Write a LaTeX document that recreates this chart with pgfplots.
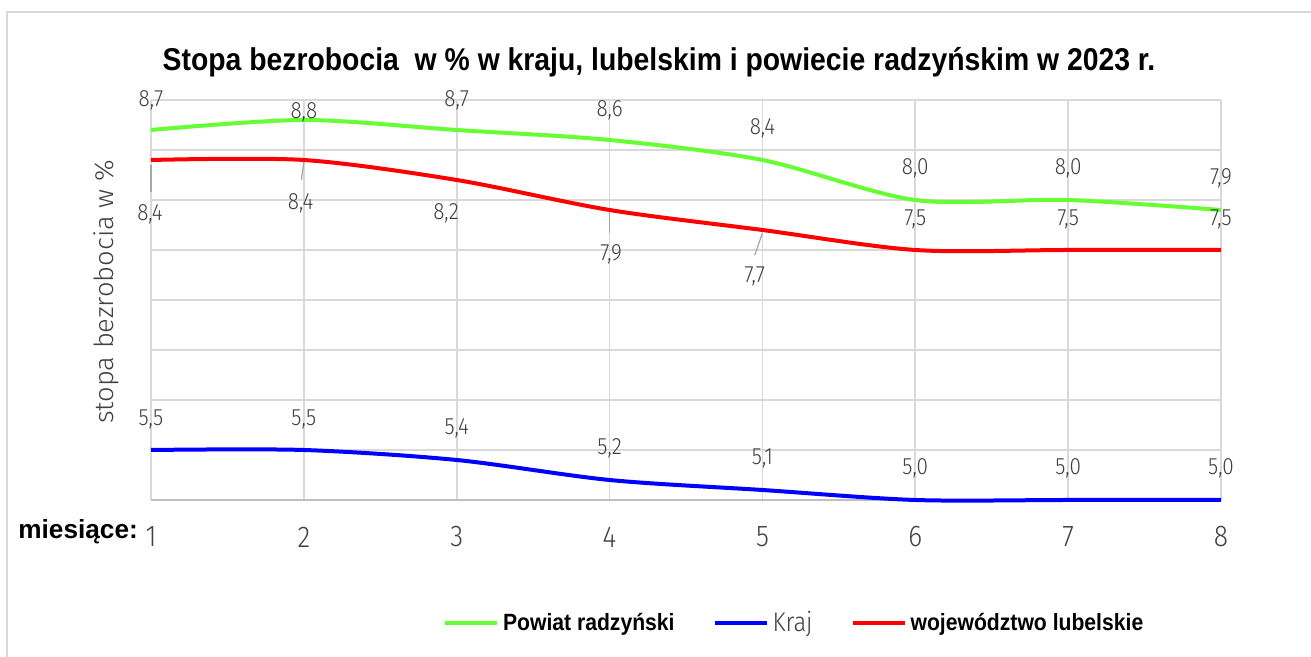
\documentclass[border=0pt]{standalone}
\usepackage{fontspec}
\setmainfont{Liberation Sans}
\newfontfamily\boldnarrow[FakeStretch=0.9]{Liberation Sans}
\newfontfamily\lightfont[FakeStretch=0.88]{Fira Sans Light}
\usepackage{pgfplots}
\pgfplotsset{compat=1.18}
\definecolor{cgreen}{RGB}{102,255,51}
\definecolor{cred}{RGB}{255,0,0}
\definecolor{cblue}{RGB}{0,0,255}
\definecolor{gridc}{RGB}{217,217,217}
\definecolor{axc}{RGB}{191,191,191}
\definecolor{labc}{RGB}{64,64,64}
\definecolor{leadc}{RGB}{166,166,166}
\begin{document}
\begin{tikzpicture}[x=0.5pt,y=0.5pt]
\useasboundingbox (0,0) rectangle (1311,657);
\fill[white] (0,0) rectangle (1311,657);
\draw[gridc, line width=1pt] (7,-40) -- (7,645) -- (1330,645);
\node[anchor=base, font=\boldnarrow\bfseries\fontsize{15.75}{18}\selectfont] at (659,586) {Stopa bezrobocia\ \ w \% w kraju, lubelskim i powiecie radzyńskim w 2023 r.};
\node[anchor=base west, inner sep=0pt, font=\bfseries\fontsize{13.1}{16}\selectfont] at (18,118) {miesiące:};
\node[rotate=90, text=labc, font=\lightfont\fontsize{15.5}{18}\selectfont] at (106,365) {\scalebox{1}[0.85]{stopa bezrobocia w \%}};
\begin{axis}[
  at={(75.5pt,78.5pt)}, anchor=south west,
  scale only axis, width=535pt, height=200pt,
  xmin=1, xmax=8, ymin=5, ymax=9,
  xtick={1,2,3,4,5,6,7,8}, xticklabels={1,2,3,4,5,6,7,8},
  ytick={5,5.5,6,6.5,7,7.5,8,8.5,9}, yticklabels={},
  major tick length=0pt,
  xmajorgrids, ymajorgrids,
  grid style={gridc, line width=0.9pt},
  axis line style={draw=none},
  xticklabel style={anchor=center, yshift=-18.5pt, text=labc, font=\lightfont\fontsize{15}{16}\selectfont},
  clip=false,
  legend style={draw=none, fill=none, at={(0.602,-0.3075)}, anchor=center,
    legend columns=3, font=\fontsize{11.75}{14}\selectfont,
    /tikz/every even column/.append style={column sep=17pt},
    legend cell align=left},
  legend image code/.code={\draw[#1, line width=2pt] (0pt,0pt) -- (26pt,0pt);},
  every axis plot/.append style={line width=2pt, smooth, tension=0.5},
]
\draw[axc, line width=1pt] (axis cs:1,5) -- (axis cs:8,5);
\addplot[cgreen] coordinates {(1,8.7) (2,8.8) (3,8.7) (4,8.6) (5,8.4) (6,8.0) (7,8.0) (8,7.9)};
\addlegendentry{{\boldnarrow\bfseries Powiat radzyński}}
\addplot[cblue] coordinates {(1,5.5) (2,5.5) (3,5.4) (4,5.2) (5,5.1) (6,5.0) (7,5.0) (8,5.0)};
\addlegendentry{\textcolor{labc}{\lightfont\fontsize{13.5}{15}\selectfont Kraj}}
\addplot[cred] coordinates {(1,8.4) (2,8.4) (3,8.2) (4,7.9) (5,7.7) (6,7.5) (7,7.5) (8,7.5)};
\addlegendentry{{\boldnarrow\bfseries województwo lubelskie}}
% leader lines
\draw[leadc, line width=0.6pt] (axis cs:1,8.35) -- (axis cs:1,8.08);
\draw[leadc, line width=0.6pt] (axis cs:2,8.38) -- (axis cs:1.984,8.20);
\draw[leadc, line width=0.6pt] (axis cs:4,7.88) -- (axis cs:4,7.67);
\draw[leadc, line width=0.6pt] (axis cs:5,7.67) -- (axis cs:4.95,7.45);
\begin{scope}[every node/.style={text=labc, font=\lightfont\fontsize{11.8}{13}\selectfont, inner sep=0pt}]
% green labels
\node at (axis cs:1,9.00) {8,7};
\node at (axis cs:2,8.88) {8,8};
\node at (axis cs:3,9.00) {8,7};
\node at (axis cs:4,8.90) {8,6};
\node at (axis cs:5,8.72) {8,4};
\node at (axis cs:6,8.32) {8,0};
\node at (axis cs:7,8.32) {8,0};
\node at (axis cs:8,8.22) {7,9};
% red labels
\node at (axis cs:0.993,7.86) {8,4};
\node at (axis cs:1.979,7.97) {8,4};
\node at (axis cs:2.93,7.87) {8,2};
\node at (axis cs:4.01,7.46) {7,9};
\node at (axis cs:4.95,7.24) {7,7};
\node at (axis cs:6,7.81) {7,5};
\node at (axis cs:7,7.81) {7,5};
\node at (axis cs:8,7.81) {7,5};
% blue labels
\node at (axis cs:1,5.81) {5,5};
\node at (axis cs:2,5.81) {5,5};
\node at (axis cs:3,5.72) {5,4};
\node at (axis cs:4,5.52) {5,2};
\node at (axis cs:5,5.42) {5,1};
\node at (axis cs:6,5.32) {5,0};
\node at (axis cs:7,5.32) {5,0};
\node at (axis cs:8,5.32) {5,0};
\end{scope}
\end{axis}
\end{tikzpicture}
\end{document}
